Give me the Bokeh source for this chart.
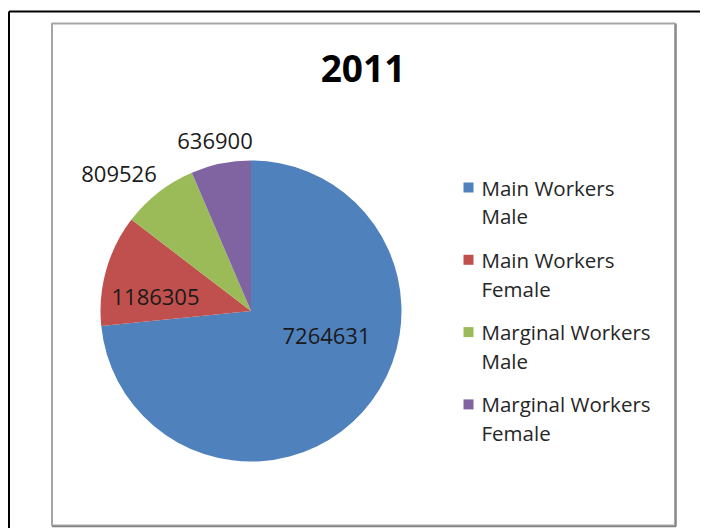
import math
from bokeh.plotting import figure
from bokeh.models import Range1d, ColumnDataSource
from bokeh.core.properties import value
from bokeh.embed import file_html
from bokeh.resources import INLINE

# ---- data ----
title_text = "2011"
legend_lines = [["Main Workers", "Male"], ["Main Workers", "Female"],
                ["Marginal Workers", "Male"], ["Marginal Workers", "Female"]]
values = [7264631, 1186305, 809526, 636900]
colors = ["#4F81BD", "#C0504D", "#9BBB59", "#8064A2"]

# ---- layout (image pixel coordinates, y measured downward) ----
W, H = 700, 528
def Y(v):
    return H - v

cx, cy, r = 250.5, 310.5, 150.5
label_anchor = [(326, 335), (155, 296), (118.5, 173.5), (214.5, 140)]

p = figure(width=W, height=H, output_backend="svg", toolbar_location=None,
           x_range=Range1d(0, W), y_range=Range1d(0, H),
           min_border=0, outline_line_color=None, background_fill_color="white",
           border_fill_color="white")
p.axis.visible = False
p.grid.visible = False

# frames
p.line([8.5, 720], [Y(11), Y(11)], line_color="black", line_width=2)
p.line([8.5, 8.5], [Y(11), Y(545)], line_color="black", line_width=2)
p.quad(left=[51.5], right=[674.5], top=[Y(23)], bottom=[Y(525)],
       fill_color=None, line_color="#a6a6a6", line_width=2)
p.line([675.5, 675.5], [Y(23), Y(526)], line_color="#808080", line_width=1.5)
p.line([51.5, 675.5], [Y(526), Y(526)], line_color="#808080", line_width=1.5)

# pie
total = float(sum(values))
starts, ends, cum = [], [], 0.0
for v in values:
    starts.append(math.pi / 2 - 2 * math.pi * cum / total)
    cum += v
    ends.append(math.pi / 2 - 2 * math.pi * cum / total)
src = ColumnDataSource(dict(start=starts, end=ends, color=colors))
p.wedge(x=cx, y=Y(cy), radius=r, start_angle="start", end_angle="end",
        direction="clock", fill_color="color", line_color=None, source=src)

# data labels
p.text(x=[a[0] for a in label_anchor], y=[Y(a[1]) for a in label_anchor],
       text=[str(v) for v in values], text_font=value("Open Sans"),
       text_font_size="22px", text_color="#1a1a1a",
       text_align="center", text_baseline="middle")

# title
p.text(x=[362.5], y=[Y(67.5)], text=[title_text], text_font=value("Open Sans"),
       text_font_size="37px", text_font_style="bold", text_color="black",
       text_align="center", text_baseline="middle")

# legend
lx_sq, lx_txt, ly0, ldy, lline = 468, 481, 187, 72.3, 28.8
sq_y = [Y(ly0 + i * ldy) for i in range(len(values))]
p.rect(x=[lx_sq] * len(values), y=sq_y, width=10, height=10,
       fill_color=colors, line_color=None)
tx, ty, tt = [], [], []
for i, lines in enumerate(legend_lines):
    for j, t in enumerate(lines):
        tx.append(lx_txt)
        ty.append(Y(ly0 + i * ldy + j * lline))
        tt.append(t)
p.text(x=tx, y=ty, text=tt, text_font=value("Open Sans"), text_font_size="20.5px",
       text_color="#262626", text_align="left", text_baseline="middle")

open("out.html", "w").write(file_html(p, INLINE))
